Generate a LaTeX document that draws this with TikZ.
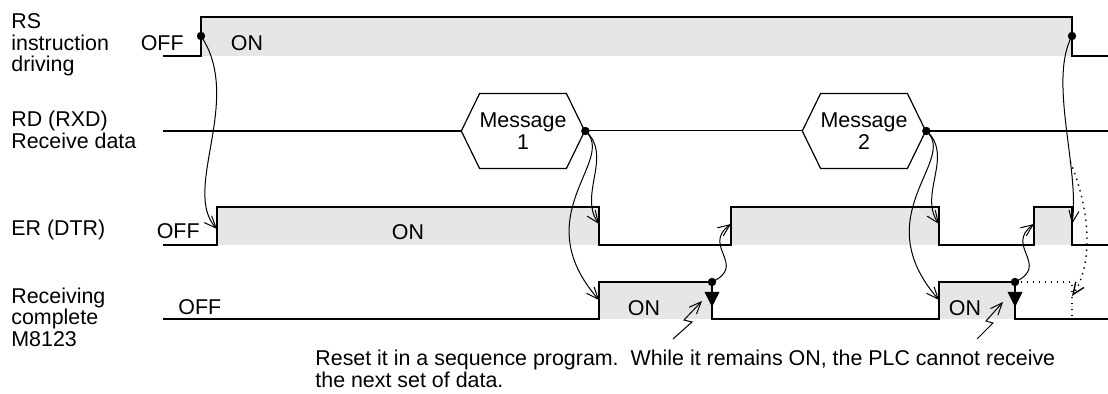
\documentclass[tikz,border=0pt]{standalone}
\usepackage{fontspec}
\setmainfont{Liberation Sans}
\usetikzlibrary{arrows.meta,positioning,shapes.symbols}
\definecolor{onfill}{RGB}{230,230,230}
\tikzset{
  sig/.style    ={line width=1pt},
  hilite/.style ={fill=onfill},
  tag/.style    ={align=left, anchor=west, inner sep=0pt},
  lvl/.style    ={inner sep=0pt},
  msg/.style    ={signal, signal to=west and east, signal pointer angle=128,
                  draw, line width=0.6pt, fill=white, align=center, inner sep=0pt,
                  minimum width=55.5pt, minimum height=37.5pt},
  knot/.style   ={circle, fill, inner sep=0pt, minimum size=4.2pt},
  link/.style   ={line width=0.5pt, -{Straight Barb[length=6pt,width=5pt]}},
  dots/.style   ={line width=0.7pt, dash pattern=on 0.7pt off 2.3pt},
}
\begin{document}
\begin{tikzpicture}[x=0.5pt, y=-0.5pt, font=\fontsize{10.7}{10.7}\selectfont]
    \useasboundingbox (0,0) rectangle (1108,394);

    % signal names
    \node[tag] (lblrs) at (11,45)  {RS\\instruction\\driving};
    \node[tag] (lblrd) at (11,130) {RD (RXD)\\Receive data};
    \node[tag] (lbler) at (11,230) {ER (DTR)};
    \node[tag] (lblrc) at (11,317) {Receiving\\complete\\M8123};

    % RS instruction driving
    \fill[hilite] (201,17) rectangle (1072,56);
    \draw[sig] (163,56) -- (201,56) -- (201,17) -- (1072,17) -- (1072,56) -- (1108,56);
    \node[lvl, anchor=east] (rsoff) at (184,43) {OFF};
    \node[lvl] (rson) at (247,43) {ON};
    \node[knot] (rsup)   at (201,36)  {};
    \node[knot] (rsdown) at (1072,36) {};

    % RD receive data
    \node[msg] (msg1) at (523,131) {Message\\1};
    \node[msg] (msg2) at (864,131) {Message\\2};
    \draw[sig] (163,131) -- (msg1.west);
    \draw[line width=0.5pt] (msg1.east) -- (msg2.west);
    \draw[sig] (msg2.east) -- (1108,131);

    % ER (DTR)
    \foreach \a/\b in {217/599, 731/939, 1034/1072}
      \fill[hilite] (\a,207) rectangle (\b,245);
    \draw[sig] (163,245) -- (217,245) -- (217,207) -- (599,207) -- (599,245)
        -- (731,245) -- (731,207) -- (939,207) -- (939,245) -- (1034,245)
        -- (1034,207) -- (1072,207) -- (1072,245) -- (1108,245);
    \node[lvl, anchor=east] (eroff) at (200,231) {OFF};
    \node[lvl] (eron) at (408,232) {ON};

    % receiving complete M8123
    \foreach \a/\b in {599/712, 939/1015}
      \fill[hilite] (\a,282) rectangle (\b,319);
    \draw[sig] (163,319) -- (599,319) -- (599,282) -- (712,282) -- (712,319)
        -- (939,319) -- (939,282) -- (1015,282) -- (1015,319) -- (1108,319);
    \node[lvl, anchor=west] (rcoff) at (178,307) {OFF};
    \node[lvl] (rcon1) at (644,308) {ON};
    \node[lvl] (rcon2) at (965,308) {ON};

    % arrow targets on the edges
    \coordinate (erstart) at (217,229);
    \coordinate (erfall3) at (1072,224);
    \coordinate (rcend)   at (1072,296);

    % RS on -> ER on
    \draw[link] (rsup.center) .. controls (244,100) and (181,190) .. (erstart);

    % message -> ER off, M8123 on; M8123 reset -> ER on
    \foreach \m/\d/\f/\r in {1/599/712/731, 2/939/1015/1034}{
      \coordinate (erfall\m) at (\d,224);
      \coordinate (rcup\m)   at (\d,300);
      \coordinate (erup\m)   at (\r,224);
      \node[knot] (msgdot\m) at (msg\m.east) {};
      \node[knot] (rcfall\m) at (\f,282) {};
      \fill (\f,307) -- ++(-7.5,-15) -- ++(15,0) -- cycle;
      \draw[link] (msgdot\m.center) .. controls +(28,24) and +(-21,-29) .. (erfall\m);
      \draw[link] (msgdot\m.center) .. controls +(32,29) and +(-74,-85) .. (rcup\m);
      \draw[link] (rcfall\m.center) .. controls +(36,-17) and +(-30,22) .. (erup\m);
    }

    % RS off -> ER off, and dotted path to M8123
    \draw[link] (rsdown.center) .. controls +(-24,44) and +(8,-54) .. (erfall3)
        coordinate[pos=0.67] (branch);
    \draw[link, dots] (branch) .. controls (1094,220) and (1090,270) .. (rcend);
    \draw[dots] (rcfall2.center) -- (1072,282) -- (1072,319);

    % note pointers
    \coordinate (zap1) at (673,339);
    \coordinate (zap2) at (977,339);
    \draw[link] (zap1) -- (692,322) -- (684,320) -- (702,301);
    \draw[link] (zap2) -- (993,323) -- (986,321) -- (1003,302);

    \node[tag, anchor=north west] (note) at (315,350)
        {Reset it in a sequence program.\ \ While it remains ON, the PLC cannot receive\\
         the next set of data.};
\end{tikzpicture}
\end{document}
